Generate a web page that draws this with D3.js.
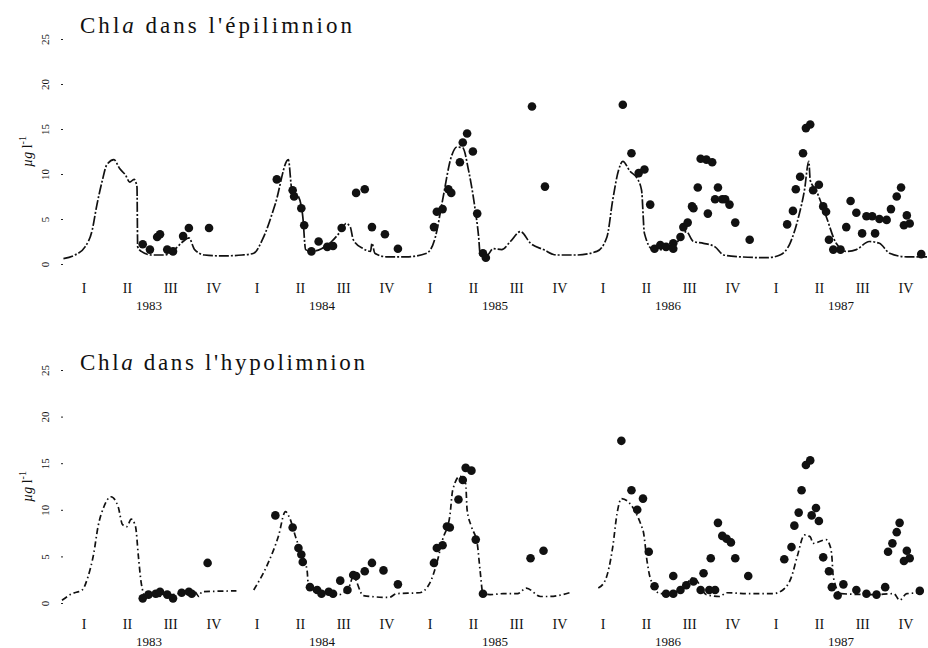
<!DOCTYPE html>
<html>
<head>
<meta charset="utf-8">
<script src="https://cdn.jsdelivr.net/npm/d3@7"></script>
<style>
  html, body { margin: 0; padding: 0; background: #fff; }
  svg { display: block; }
  text { font-family: "Liberation Serif", "DejaVu Serif", serif; fill: #111; }
</style>
</head>
<body>
<svg id="chart" width="928" height="648"></svg>
<script>
// Time axis: months since January 1983 (0 .. 60)
const quarterLabels = ["I", "II", "III", "IV"];
const years = ["1983", "1984", "1985", "1986", "1987"];
const yTicks = [0, 5, 10, 15, 20, 25];

// Chl a, epilimnion: simulated curve [month, µg/l]
const epiModel = [[0.1,0.6],[0.9,1.0],[1.6,1.9],[2.1,3.8],[2.4,6.4],[2.8,9.3],[3.1,11.0],[3.6,11.6],[4.0,10.6],[4.4,9.9],[4.7,9.1],[5.0,9.4],[5.2,8.6],[5.25,1.9],[5.5,1.4],[6.2,1.0],[7.1,1.0],[7.8,1.6],[8.4,2.5],[8.8,2.9],[9.2,1.6],[9.9,1.0],[11.1,0.9],[12.5,1.0],[13.3,1.2],[13.9,2.7],[14.8,6.7],[15.7,11.6],[15.95,8.2],[16.4,7.5],[16.7,5.3],[16.9,1.6],[17.3,1.4],[18.0,1.7],[18.7,2.5],[19.4,3.8],[19.7,4.5],[20.0,4.1],[20.2,2.7],[20.9,1.7],[21.4,1.4],[21.5,2.3],[21.7,1.2],[22.5,0.8],[23.9,0.8],[25.3,1.2],[25.9,3.0],[26.4,7.1],[27.0,11.9],[27.4,13.0],[27.8,12.9],[28.2,10.4],[28.6,6.7],[28.9,3.0],[29.0,1.2],[29.5,1.0],[29.9,1.7],[30.5,1.6],[31.1,2.5],[31.8,3.6],[32.5,2.3],[33.4,1.6],[34.3,1.0],[35.7,1.0],[37.1,1.4],[37.8,3.0],[38.2,7.1],[38.6,10.4],[38.9,11.4],[39.4,10.3],[39.9,9.5],[40.2,8.2],[40.4,3.4],[41.0,1.6],[41.9,1.6],[42.6,2.3],[43.3,3.6],[43.8,2.5],[44.5,2.3],[45.3,1.9],[45.9,1.0],[47.0,0.8],[48.9,0.7],[49.8,1.0],[50.5,2.3],[51.1,5.3],[51.5,8.2],[51.8,11.4],[51.9,9.3],[52.3,8.2],[53.0,5.3],[53.7,2.3],[54.4,1.4],[55.1,1.6],[56.0,2.5],[56.7,2.3],[57.4,1.2],[58.6,0.8],[60.0,0.8]];

// Chl a, epilimnion: measurements [month, µg/l]
const epiObs = [[5.6,2.2],[6.1,1.6],[6.6,3.0],[6.8,3.3],[7.3,1.6],[7.7,1.4],[8.4,3.1],[8.8,4.0],[10.2,4.0],[14.9,9.4],[16.0,8.2],[16.1,7.5],[16.6,6.2],[16.8,4.3],[17.3,1.4],[17.8,2.5],[18.4,1.9],[18.8,2.0],[19.4,4.0],[20.4,7.9],[21.0,8.3],[21.5,4.1],[22.4,3.3],[23.3,1.7],[25.8,4.1],[26.0,5.8],[26.4,6.1],[26.8,8.3],[27.0,7.9],[27.6,11.3],[27.8,13.5],[28.1,14.5],[28.5,12.5],[28.8,5.6],[29.2,1.2],[29.4,0.7],[32.6,17.5],[33.5,8.6],[38.9,17.7],[39.5,12.3],[40.0,10.1],[40.4,10.5],[40.8,6.6],[41.1,1.7],[41.5,2.1],[41.9,1.9],[42.4,2.3],[42.4,1.7],[42.9,3.0],[43.1,4.1],[43.4,4.6],[43.7,6.4],[43.8,6.2],[44.1,8.5],[44.3,11.7],[44.7,11.6],[45.1,11.3],[44.8,5.6],[45.3,7.2],[45.5,8.5],[45.8,7.2],[46.0,7.2],[46.3,6.6],[46.7,4.6],[47.7,2.7],[50.3,4.4],[50.7,5.9],[50.9,8.3],[51.2,9.7],[51.4,12.3],[51.6,15.1],[51.9,15.5],[52.1,8.2],[52.5,8.8],[52.8,6.4],[53.0,5.8],[53.2,2.7],[53.5,1.6],[54.0,1.6],[54.7,7.0],[54.4,4.1],[55.1,5.7],[55.5,3.4],[55.8,5.3],[56.2,5.3],[56.4,3.4],[56.7,5.0],[57.2,4.9],[57.5,6.1],[57.9,7.5],[58.2,8.5],[58.6,5.4],[58.4,4.3],[58.8,4.5],[59.6,1.1]];

// Chl a, hypolimnion: simulated curve (null = no simulation)
const hypoModel = [[0.0,0.3],[0.7,1.0],[1.4,1.4],[1.8,2.8],[2.2,5.3],[2.5,8.2],[2.9,10.3],[3.4,11.4],[3.9,10.3],[4.2,8.4],[4.5,8.2],[4.8,9.0],[5.1,8.2],[5.3,5.0],[5.5,2.1],[5.8,0.7],[6.5,0.7],[9.2,1.2],[9.5,0.7],[9.7,1.2],[12.1,1.3],[12.7,null],[13.3,1.4],[14.3,4.3],[15.0,7.1],[15.5,9.8],[15.8,9.1],[16.2,7.1],[16.6,5.3],[17.0,3.5],[17.1,1.7],[18.0,1.0],[19.2,0.9],[19.9,1.7],[20.2,2.8],[20.9,0.8],[22.7,0.6],[23.2,1.0],[24.8,1.1],[25.5,2.1],[26.0,4.3],[26.4,6.8],[26.9,9.3],[27.1,12.1],[27.6,13.6],[28.0,12.8],[28.1,10.0],[28.4,8.2],[28.8,6.4],[29.0,3.5],[29.2,1.0],[29.7,0.9],[30.6,1.0],[31.6,1.0],[32.2,1.6],[33.2,0.7],[33.8,0.7],[35.2,1.1],[36.2,null],[37.2,1.6],[37.7,2.5],[38.2,6.0],[38.5,9.6],[38.8,11.2],[40.3,7.8],[40.6,4.3],[40.8,2.7],[41.5,1.0],[42.9,1.4],[43.8,2.7],[44.7,0.9],[45.6,0.7],[46.1,1.1],[47.7,1.0],[49.3,1.0],[50.0,1.4],[50.6,2.8],[51.0,5.0],[51.5,7.3],[51.9,7.1],[52.1,6.4],[53.0,6.8],[53.3,6.0],[53.4,5.0],[53.5,2.8],[54.0,1.0],[56.3,0.9],[57.7,1.0],[58.1,0.3],[58.6,1.0],[59.7,1.1]];

// Chl a, hypolimnion: measurements
const hypoObs = [[5.6,0.5],[6.0,0.9],[6.5,1.0],[6.8,1.2],[7.3,0.9],[7.7,0.5],[8.3,1.1],[8.8,1.2],[9.0,1.0],[10.1,4.3],[14.8,9.4],[16.0,8.1],[16.4,5.9],[16.6,5.2],[16.7,4.4],[17.2,1.7],[17.7,1.4],[18.0,1.0],[18.5,1.2],[18.8,1.0],[19.3,2.4],[19.8,1.4],[20.2,3.0],[20.4,2.9],[21.0,3.4],[21.5,4.3],[22.3,3.5],[23.3,2.0],[25.8,4.3],[26.0,5.9],[26.4,6.2],[26.7,8.2],[26.9,8.1],[27.5,11.1],[27.8,13.2],[28.0,14.5],[28.4,14.2],[28.7,6.8],[29.2,1.0],[32.5,4.8],[33.4,5.6],[38.8,17.4],[39.5,12.1],[40.3,11.2],[39.9,10.0],[40.7,5.5],[41.1,1.8],[41.9,1.0],[42.4,2.9],[42.4,1.0],[42.9,1.4],[43.3,1.9],[43.8,2.3],[44.5,3.2],[44.3,1.4],[44.9,1.4],[45.3,1.4],[45.0,4.8],[45.5,8.6],[45.8,7.2],[46.1,6.9],[46.4,6.5],[46.7,4.8],[47.6,2.9],[50.1,4.7],[50.6,6.0],[50.8,8.3],[51.1,9.7],[51.3,12.1],[51.6,14.8],[51.9,15.3],[52.3,10.2],[52.0,9.4],[52.5,8.8],[52.8,4.9],[53.2,3.4],[53.4,1.7],[53.8,0.8],[54.2,2.0],[55.1,1.4],[55.8,1.0],[56.5,0.9],[57.1,1.7],[57.3,5.5],[57.6,6.4],[57.9,7.6],[58.1,8.6],[58.6,5.6],[58.4,4.5],[58.8,4.8],[59.5,1.3]];

const svg = d3.select("#chart");
const x = d3.scaleLinear().domain([0, 60]).range([62, 927]);

const panels = [
  { title: "dans  l'épilimnion", model: epiModel, obs: epiObs,
    y: d3.scaleLinear().domain([0, 25]).range([264, 39]),
    titleY: 33, titleW: 272, qY: 292, yrY: 310, dash: "10,2,2,2" },
  { title: "dans l'hypolimnion", model: hypoModel, obs: hypoObs,
    y: d3.scaleLinear().domain([0, 25]).range([603, 370]),
    titleY: 370, titleW: 285, qY: 628, yrY: 646, dash: "6,3,1.5,3" }
];

const quarterTicks = d3.range(20).map(i => i * 3 + 1.5);
const yearTicks = d3.range(5).map(i => i * 12 + 6);

panels.forEach(p => {
  const g = svg.append("g");

  // Title
  const t = g.append("text").attr("x", 80).attr("y", p.titleY)
    .attr("font-size", 23)
    .attr("textLength", p.titleW).attr("lengthAdjust", "spacing");
  t.append("tspan").text("Chl");
  t.append("tspan").attr("font-style", "italic").text("a");
  t.append("tspan").text(" " + p.title);

  // Y axis: small ticks, rotated labels
  const ya = g.append("g").attr("transform", "translate(63,0)")
    .call(d3.axisLeft(p.y).tickValues(yTicks).tickSize(2));
  ya.select(".domain").remove();
  ya.selectAll("line").attr("stroke", "#222");
  ya.selectAll("text")
    .attr("font-family", "Liberation Serif, serif")
    .attr("font-size", 11)
    .attr("fill", "#222")
    .attr("text-anchor", "middle")
    .attr("x", 0).attr("y", 0).attr("dy", "0.35em")
    .attr("transform", "translate(-18,0) rotate(-90)");

  // Y axis title: µg l-1 (rotated)
  const yMid = (p.y(0) + p.y(25)) / 2;
  const yt = g.append("text")
    .attr("transform", `translate(32,${yMid}) rotate(-90)`)
    .attr("text-anchor", "middle").attr("font-size", 14);
  yt.append("tspan").attr("font-style", "italic").text("µg");
  yt.append("tspan").text(" l");
  yt.append("tspan").attr("font-size", 10).attr("dy", -6).text("-1");

  // X axis: quarters and years
  const xa = g.append("g").attr("transform", `translate(0,${p.qY - 12})`)
    .call(d3.axisBottom(x).tickValues(quarterTicks).tickSize(0)
      .tickFormat((d, i) => quarterLabels[i % 4]));
  xa.select(".domain").remove();
  xa.selectAll("text").attr("font-family", "Liberation Serif, serif")
    .attr("font-size", 14).attr("fill", "#111").attr("dy", "0.71em");

  const xb = g.append("g").attr("transform", `translate(0,${p.yrY - 12})`)
    .call(d3.axisBottom(x).tickValues(yearTicks).tickSize(0)
      .tickFormat((d, i) => years[i]));
  xb.select(".domain").remove();
  xb.selectAll("text").attr("font-family", "Liberation Serif, serif")
    .attr("font-size", 13).attr("fill", "#111").attr("dy", "0.71em");

  // Simulated curve
  const line = d3.line()
    .defined(d => d[1] != null)
    .x(d => x(d[0])).y(d => p.y(d[1]))
    .curve(d3.curveMonotoneX);
  g.append("path").datum(p.model)
    .attr("d", line)
    .attr("fill", "none").attr("stroke", "#111")
    .attr("stroke-width", 1.7)
    .attr("stroke-dasharray", p.dash);

  // Measured values
  g.append("g").selectAll("circle").data(p.obs).join("circle")
    .attr("cx", d => x(d[0])).attr("cy", d => p.y(d[1]))
    .attr("r", 4.3).attr("fill", "#111");
});
</script>
</body>
</html>
